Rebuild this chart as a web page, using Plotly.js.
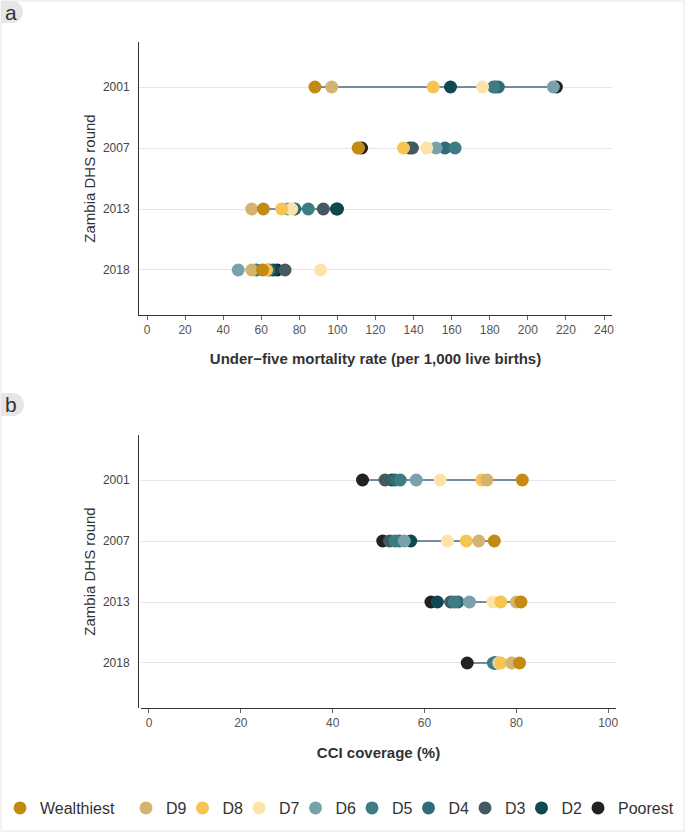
<!DOCTYPE html>
<html>
<head>
<meta charset="utf-8">
<script src="https://cdn.plot.ly/plotly-3.0.1.min.js"></script>
<style>html,body{margin:0;padding:0;background:#fff;}#chart{width:685px;height:835px;}</style>
</head>
<body>
<div id="chart"></div>
<script>
// Survey rounds
const rounds = ['2001', '2007', '2013', '2018'];
// Wealth deciles (drawing order: poorest first, wealthiest on top)
const groups = ['Poorest', 'D2', 'D3', 'D4', 'D5', 'D6', 'D7', 'D8', 'D9', 'Wealthiest'];
const groupColors = ['#222222', '#0e4852', '#445a60', '#2d6c78', '#3e7c84', '#77a2a9', '#fce4a8', '#f6c451', '#d3b36d', '#c48a12'];

// Panel a: under-five mortality rate per decile, values for 2001, 2007, 2013, 2018
const u5mr_Poorest    = [215.0, 112.7, 100.0, 68.4];
const u5mr_D2         = [159.4, 138.0,  99.5, 66.3];
const u5mr_D3         = [183.0, 139.4,  92.6, 72.5];
const u5mr_D4         = [184.5, 156.5,  77.7, 64.0];
const u5mr_D5         = [182.0, 161.8,  84.7, 57.5];
const u5mr_D6         = [213.4, 151.8,  74.0, 47.9];
const u5mr_D7         = [176.2, 146.9,  76.0, 91.2];
const u5mr_D8         = [150.3, 134.7,  70.7, 62.8];
const u5mr_D9         = [ 97.0, 111.0,  55.0, 55.0];
const u5mr_Wealthiest = [ 88.2, 110.9,  61.1, 60.7];

// Panel b: CCI coverage (%) per decile, values for 2001, 2007, 2013, 2018
const cci_Poorest    = [46.5, 50.9, 61.4, 69.3];
const cci_D2         = [52.9, 57.0, 62.8, 75.3];
const cci_D3         = [51.4, 52.4, 65.7, 75.2];
const cci_D4         = [53.6, 54.5, 67.3, 75.4];
const cci_D5         = [54.7, 53.6, 66.5, 75.0];
const cci_D6         = [58.2, 55.6, 69.8, 76.0];
const cci_D7         = [63.4, 65.0, 74.9, 76.3];
const cci_D8         = [72.5, 69.1, 76.6, 76.6];
const cci_D9         = [73.6, 71.8, 80.0, 79.0];
const cci_Wealthiest = [81.3, 75.2, 81.0, 80.7];

// Axis ticks
const u5mrTicks = [0, 20, 40, 60, 80, 100, 120, 140, 160, 180, 200, 220, 240];
const cciTicks = [0, 20, 40, 60, 80, 100];
// Legend entry widths (text area)
const legendWidths = [62, 11.5, 11.5, 11.5, 11.5, 11.5, 11.5, 11.5, 11.5, 81];

const u5mr = [u5mr_Poorest, u5mr_D2, u5mr_D3, u5mr_D4, u5mr_D5, u5mr_D6, u5mr_D7, u5mr_D8, u5mr_D9, u5mr_Wealthiest];
const cci = [cci_Poorest, cci_D2, cci_D3, cci_D4, cci_D5, cci_D6, cci_D7, cci_D8, cci_D9, cci_Wealthiest];

const FONT = 'Liberation Sans, Arial, Helvetica, sans-serif';
const W = 685, H = 835;
const px = v => v / W;
const py = v => 1 - v / H;

function rangeLine(data, xa, ya) {
  const xs = [], ys = [];
  const poor = data[0], rich = data[data.length - 1];
  rounds.forEach((r, i) => {
    xs.push(rich[i], poor[i], null);
    ys.push(r, r, null);
  });
  return {x: xs, y: ys, xaxis: xa, yaxis: ya, mode: 'lines', type: 'scatter',
    line: {color: '#4a6a88', width: 1.6}, showlegend: false, hoverinfo: 'skip'};
}

const traces = [rangeLine(u5mr, 'x', 'y'), rangeLine(cci, 'x2', 'y2')];
groups.forEach((g, k) => {
  traces.push({x: u5mr[k], y: rounds, xaxis: 'x', yaxis: 'y', type: 'scatter', mode: 'markers',
    name: g, legendgroup: g, legendwidth: legendWidths[k],
    marker: {color: groupColors[k], size: 13, line: {width: 0}}});
  traces.push({x: cci[k], y: rounds, xaxis: 'x2', yaxis: 'y2', type: 'scatter', mode: 'markers',
    name: g, legendgroup: g, showlegend: false,
    marker: {color: groupColors[k], size: 13, line: {width: 0}}});
});

const catOrder = rounds.slice().reverse();
function yAxis(domain) {
  return {domain: domain, type: 'category', categoryorder: 'array', categoryarray: catOrder,
    range: [-0.738, 3.738], showline: true, linecolor: '#333', linewidth: 1, ticks: '',
    ticklabelstandoff: 6, tickfont: {size: 12, color: '#444', family: FONT},
    showgrid: true, gridcolor: '#dfe7eb', gridwidth: 1, zeroline: false, fixedrange: true,
    title: {text: 'Zambia DHS round', font: {size: 15, color: '#333', family: FONT}, standoff: 3}};
}
function xAxis(domain, range, ticks, title, anchor, standoff) {
  return {domain: domain, range: range, anchor: anchor, tickvals: ticks, ticktext: ticks.map(String),
    showline: true, linecolor: '#333', linewidth: 1, ticks: 'outside', ticklen: 4, tickcolor: '#666',
    tickfont: {size: 12, color: '#555', family: FONT}, showgrid: false, zeroline: false,
    title: {text: title, font: {size: 15, color: '#333', family: FONT, weight: 'bold'}, standoff: standoff}};
}

const layout = {
  width: W, height: H, margin: {l: 0, r: 0, t: 0, b: 0},
  paper_bgcolor: '#ffffff', plot_bgcolor: '#ffffff',
  font: {family: FONT, color: '#333'},
  xaxis: xAxis([px(139), px(612)], [-4.2, 244.2], u5mrTicks, 'Under\u2212five mortality rate (per 1,000 live births)', 'y', 17),
  yaxis: yAxis([py(315), py(42)]),
  xaxis2: xAxis([px(141), px(616)], [-1.74, 101.7], cciTicks, 'CCI coverage (%)', 'y2', 18),
  yaxis2: yAxis([py(708), py(435)]),
  showlegend: true,
  legend: {orientation: 'h', traceorder: 'reversed', x: px(6), xanchor: 'left', y: py(808), yanchor: 'middle',
    font: {size: 16, color: '#333', family: FONT}, itemwidth: 30, bgcolor: 'rgba(0,0,0,0)'},
  shapes: [
    {type: 'rect', xref: 'paper', yref: 'paper', x0: px(1), x1: px(684), y0: py(831), y1: py(1),
      line: {color: '#e6e6e6', width: 1}, fillcolor: 'rgba(0,0,0,0)', layer: 'below'},
    {type: 'circle', xref: 'paper', yref: 'paper', x0: px(1), x1: px(23), y0: py(23), y1: py(1),
      line: {width: 0}, fillcolor: '#e6e6e6', layer: 'below'},
    {type: 'rect', xref: 'paper', yref: 'paper', x0: px(1), x1: px(12), y0: py(23), y1: py(1),
      line: {width: 0}, fillcolor: '#e6e6e6', layer: 'below'},
    {type: 'circle', xref: 'paper', yref: 'paper', x0: px(1), x1: px(24), y0: py(416), y1: py(393),
      line: {width: 0}, fillcolor: '#e6e6e6', layer: 'below'},
    {type: 'rect', xref: 'paper', yref: 'paper', x0: px(1), x1: px(12), y0: py(416), y1: py(393),
      line: {width: 0}, fillcolor: '#e6e6e6', layer: 'below'}
  ],
  annotations: [
    {text: 'a', xref: 'paper', yref: 'paper', x: px(11), y: py(12), xanchor: 'center', yanchor: 'middle',
      showarrow: false, font: {size: 21, color: '#333', family: FONT}},
    {text: 'b', xref: 'paper', yref: 'paper', x: px(11), y: py(404), xanchor: 'center', yanchor: 'middle',
      showarrow: false, font: {size: 21, color: '#333', family: FONT}}
  ]
};

Plotly.newPlot('chart', traces, layout, {displayModeBar: false, staticPlot: true});
</script>
</body>
</html>
